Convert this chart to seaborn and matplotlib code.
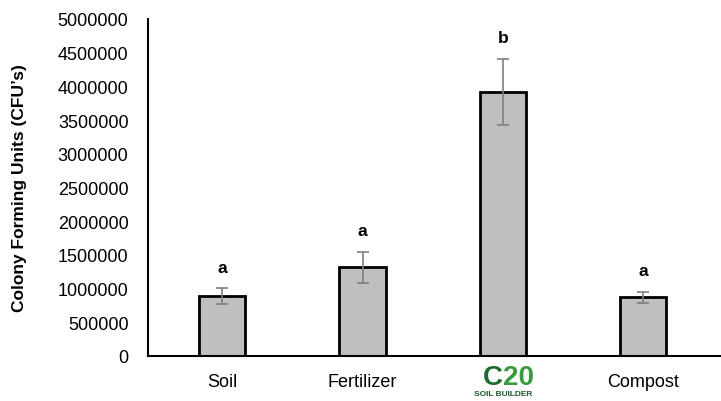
import matplotlib
matplotlib.use("Agg")
import matplotlib.pyplot as plt
import matplotlib.transforms as mtransforms
import numpy as np
import pandas as pd
import seaborn as sns

categories = ["Soil", "Fertilizer", "C20", "Compost"]
cfu_mean = [890000, 1316000, 3915000, 870000]
cfu_err = [112000, 228000, 490000, 80000]
letters = ["a", "a", "b", "a"]
tick_labels = ["Soil", "Fertilizer", "", "Compost"]

sns.set_style("white")
plt.rcParams['font.family'] = ['Liberation Sans', 'DejaVu Sans']
plt.rcParams['text.color'] = 'black'
plt.rcParams['axes.labelcolor'] = 'black'
plt.rcParams['xtick.color'] = 'black'
plt.rcParams['ytick.color'] = 'black'

df = pd.DataFrame({"treatment": categories, "cfu": cfu_mean})

fig = plt.figure(figsize=(7.21, 4.02), dpi=100)
ax = fig.add_axes([148 / 721, 1 - 357 / 402, 1 - 148 / 721, 337 / 402])

sns.barplot(data=df, x="treatment", y="cfu", order=categories, color="#BFBFBF",
            edgecolor="black", linewidth=2, width=0.33, saturation=1,
            errorbar=None, ax=ax)
ax.errorbar(np.arange(len(categories)), cfu_mean, yerr=cfu_err, fmt="none",
            ecolor="#7F7F7F", elinewidth=1.2, capsize=4, capthick=1.2)

# significance letters
for i, (m, e, lab) in enumerate(zip(cfu_mean, cfu_err, letters)):
    ax.annotate(lab, (i, m + e), xytext=(0, 10), textcoords="offset points",
                ha="center", va="bottom", fontsize=12.5, fontweight="bold",
                color="black")

ax.set_xlim(-0.53, 3.556)
ax.set_ylim(0, 5000000)
ax.set_yticks(np.arange(0, 5000001, 500000))
ax.set_yticklabels([str(v) for v in range(0, 5000001, 500000)])
ax.set_xticks(range(len(categories)))
ax.set_xticklabels(tick_labels)
ax.tick_params(axis="y", direction="out", length=6, width=1.2, color="black",
               labelcolor="black", labelsize=13, pad=8)
ax.tick_params(axis="x", length=0, labelcolor="black", labelsize=13, pad=12)
ax.set_xlabel("")
ax.set_ylabel("Colony Forming Units (CFU\u2019s)", fontsize=12.5,
              fontweight="bold", labelpad=22, color="black")

for side in ["top", "right"]:
    ax.spines[side].set_visible(False)
for side in ["left", "bottom"]:
    ax.spines[side].set_color("black")
    ax.spines[side].set_linewidth(1.5)

# C20 logo as text
trans = mtransforms.blended_transform_factory(ax.transData, fig.transFigure)
ax.text(2, 1 - 378 / 402, "C", transform=trans, ha="right", va="center",
        fontsize=20, fontweight="bold", color="#1E6B2E")
ax.text(2, 1 - 378 / 402, "20", transform=trans, ha="left", va="center",
        fontsize=20, fontweight="bold", color="#3A9A3F")
ax.text(2, 1 - 395 / 402, "SOIL BUILDER", transform=trans, ha="center",
        va="center", fontsize=6, fontweight="bold", color="#1E5A2A")

fig.savefig("out.png", dpi=100)
